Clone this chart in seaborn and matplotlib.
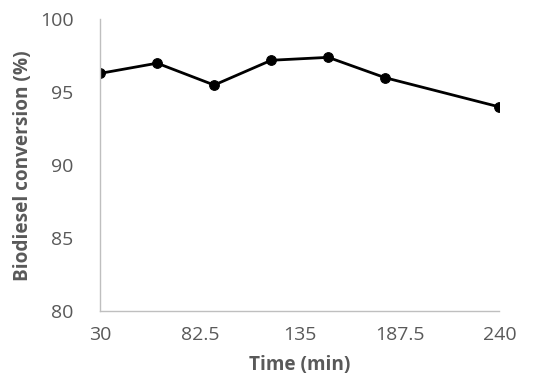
import numpy as np
import pandas as pd
import matplotlib
matplotlib.use("Agg")
import matplotlib.pyplot as plt
import seaborn as sns

# podatki
time_min = [30, 60, 90, 120, 150, 180, 240]
conversion = [96.3, 97.0, 95.5, 97.2, 97.4, 96.0, 94.0]
x_ticks = [30, 82.5, 135, 187.5, 240]
x_ticklabels = ["30", "82.5", "135", "187.5", "240"]
y_ticks = [80, 85, 90, 95, 100]

sns.set_style("white")
plt.rcParams['font.family'] = ['Open Sans', 'DejaVu Sans']

df = pd.DataFrame({'time': time_min, 'conv': conversion})

fig = plt.figure(figsize=(5.5, 3.89), dpi=100)
ax = fig.add_axes([0.182, 0.2005, 0.726, 0.7495])

sns.lineplot(data=df, x='time', y='conv', ax=ax, color='black', linewidth=2,
             marker='o', markersize=7, markeredgecolor='black')

ax.set_xlim(30, 240)
ax.set_ylim(80, 100)
ax.set_xticks(x_ticks)
ax.set_xticklabels(x_ticklabels)
ax.set_xticks(np.arange(30, 241, 26.25), minor=True)
ax.set_yticks(y_ticks)
ax.set_yticks(np.arange(80, 100.1, 2.5), minor=True)

gray = '#595959'
for side in ['top', 'right']:
    ax.spines[side].set_visible(False)
for side in ['left', 'bottom']:
    ax.spines[side].set_color('#bfbfbf')
    ax.spines[side].set_linewidth(1)

ax.tick_params(which='both', direction='out', length=3, width=1, color='#bfbfbf',
               labelsize=14, labelcolor=gray)
ax.tick_params(axis='x', which='major', pad=8)
ax.tick_params(axis='y', which='major', pad=16)

ax.set_xlabel('Time (min)', fontsize=13.7, fontweight='bold', color=gray, labelpad=8)
ax.set_ylabel('Biodiesel conversion (%)', fontsize=13.7, fontweight='bold', color=gray, labelpad=5)

plt.savefig('out.png', dpi=100)
plt.close()
